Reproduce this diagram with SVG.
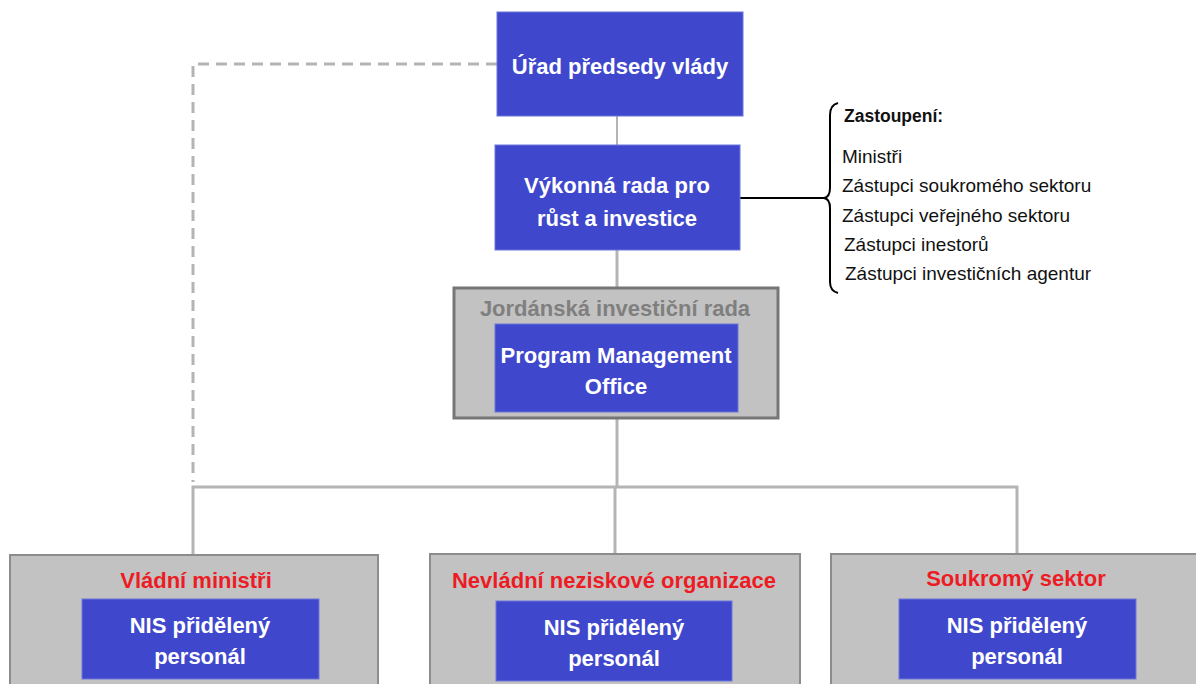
<svg xmlns="http://www.w3.org/2000/svg" width="1196" height="684" viewBox="0 0 1196 684">
<style>
.blue{fill:#3f48cc;stroke:#6d74d8;stroke-width:1}
.grey{fill:#c2c2c2;stroke:#8c8c8c;stroke-width:2}
.wt{font-family:"Liberation Sans",Arial,sans-serif;font-weight:bold;font-size:22px;fill:#ffffff;text-anchor:middle}
.rt{font-family:"Liberation Sans",Arial,sans-serif;font-weight:bold;font-size:22px;fill:#ed1c24;text-anchor:middle}
.gt{font-family:"Liberation Sans",Arial,sans-serif;font-weight:bold;font-size:22px;fill:#7f7f7f;text-anchor:middle}
.lt{font-family:"Liberation Sans",Arial,sans-serif;font-size:19px;fill:#111111}
.conn{fill:none;stroke:#b4b4b4;stroke-width:3}
</style>
<g id="connectors">
<path class="conn" d="M497 64 H193 V482" stroke-dasharray="11 7"/>
<line class="conn" x1="617" y1="116" x2="617" y2="145" style="stroke-width:2"/>
<line class="conn" x1="617" y1="250" x2="617" y2="288"/>
<line class="conn" x1="617" y1="418" x2="617" y2="487"/>
<path class="conn" d="M193 555 V487 H1017 V554"/>
<line class="conn" x1="615" y1="487" x2="615" y2="554"/>
<line x1="740" y1="198" x2="826" y2="198" stroke="#000" stroke-width="2"/>
<path d="M838 103 Q830 105 830 115 L830 188 Q830 197 824 198 Q830 199 830 208 L830 282 Q830 291 838 293" fill="none" stroke="#000" stroke-width="2"/>
</g>
<g id="pm-office">
<rect class="blue" x="497" y="12" width="246" height="104"/>
<text class="wt" x="620" y="74">Úřad předsedy vlády</text>
</g>
<g id="exec-board">
<rect class="blue" x="495" y="145" width="245" height="105"/>
<text class="wt" x="617" y="193">Výkonná rada pro</text>
<text class="wt" x="617" y="226">růst a investice</text>
</g>
<g id="representation">
<text class="lt" x="844" y="122" style="font-weight:bold;font-size:17.5px">Zastoupení:</text>
<text class="lt" x="842" y="163">Ministři</text>
<text class="lt" x="842" y="192">Zástupci soukromého sektoru</text>
<text class="lt" x="842" y="222">Zástupci veřejného sektoru</text>
<text class="lt" x="844" y="251">Zástupci inestorů</text>
<text class="lt" x="845" y="280">Zástupci investičních agentur</text>
</g>
<g id="jib">
<rect x="454" y="288" width="324" height="130" fill="#c2c2c2" stroke="#767676" stroke-width="3"/>
<text class="gt" x="615" y="316">Jordánská investiční rada</text>
<rect class="blue" x="495" y="324" width="243" height="88"/>
<text class="wt" x="616" y="363">Program Management</text>
<text class="wt" x="616" y="394">Office</text>
</g>
<g id="gov">
<rect class="grey" x="10" y="555" width="368" height="140"/>
<text class="rt" x="196" y="588">Vládní ministři</text>
<rect class="blue" x="82" y="599" width="237" height="80"/>
<text class="wt" x="200" y="633">NIS přidělený</text>
<text class="wt" x="200" y="664">personál</text>
</g>
<g id="ngo">
<rect class="grey" x="430" y="554" width="370" height="140"/>
<text class="rt" x="614" y="588">Nevládní neziskové organizace</text>
<rect class="blue" x="496" y="601" width="236" height="80"/>
<text class="wt" x="614" y="635">NIS přidělený</text>
<text class="wt" x="614" y="666">personál</text>
</g>
<g id="private">
<rect class="grey" x="831" y="554" width="380" height="140"/>
<text class="rt" x="1016" y="586">Soukromý sektor</text>
<rect class="blue" x="899" y="599" width="237" height="80"/>
<text class="wt" x="1017" y="633">NIS přidělený</text>
<text class="wt" x="1017" y="664">personál</text>
</g>
</svg>
